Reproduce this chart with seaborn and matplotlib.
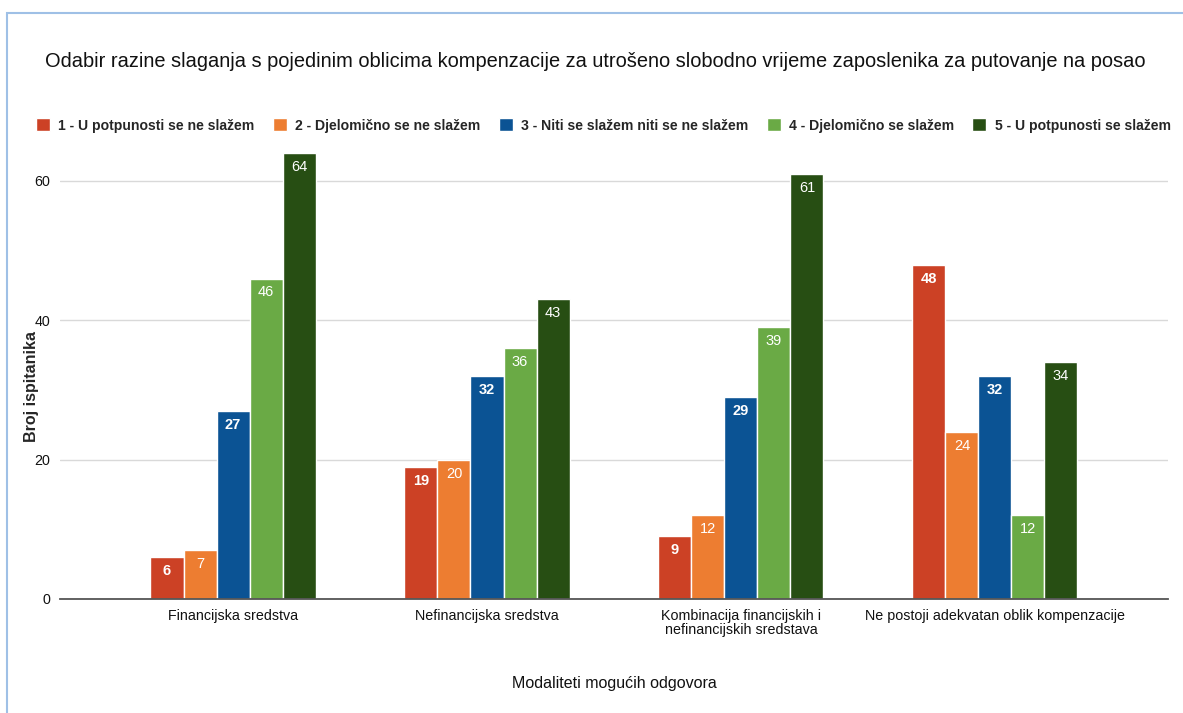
import matplotlib.pyplot as plt
import pandas as pd
import seaborn as sns
from matplotlib.patches import Rectangle

categories = [
    "Financijska sredstva",
    "Nefinancijska sredstva",
    "Kombinacija financijskih i\nnefinancijskih sredstava",
    "Ne postoji adekvatan oblik kompenzacije",
]
levels = [
    "1 - U potpunosti se ne slažem",
    "2 - Djelomično se ne slažem",
    "3 - Niti se slažem niti se ne slažem",
    "4 - Djelomično se slažem",
    "5 - U potpunosti se slažem",
]
level_1 = [6, 19, 9, 48]
level_2 = [7, 20, 12, 24]
level_3 = [27, 32, 29, 32]
level_4 = [46, 36, 39, 12]
level_5 = [64, 43, 61, 34]
colors = ["#CC4125", "#ED7D31", "#0B5394", "#6AAA45", "#274E13"]
bold_labels = [True, False, True, False, False]

sns.set_theme(style="white")
plt.rcParams["font.family"] = ["Liberation Sans", "DejaVu Sans"]

rows = []
for level, vals in zip(levels, [level_1, level_2, level_3, level_4, level_5]):
    for cat, v in zip(categories, vals):
        rows.append({"kategorija": cat, "razina": level, "broj": v})
df = pd.DataFrame(rows)

fig = plt.figure(figsize=(11.83, 7.13), dpi=100)
ax = fig.add_axes([0.051, 0.16, 0.936, 0.635])

sns.barplot(
    data=df, x="kategorija", y="broj", hue="razina", order=categories,
    hue_order=levels, palette=colors, saturation=1, width=0.65,
    edgecolor="white", linewidth=1, ax=ax, legend=True,
)

for container, is_bold in zip(ax.containers, bold_labels):
    for bar in container:
        h = bar.get_height()
        ax.annotate(
            f"{h:.0f}", (bar.get_x() + bar.get_width() / 2, h),
            xytext=(0, -5), textcoords="offset points", ha="center", va="top",
            color="white", fontsize=10.5, fontweight="bold" if is_bold else "normal",
        )

ax.set_ylim(0, 65)
ax.set_xlim(-0.68, 3.68)
ax.set_yticks([0, 20, 40, 60])
ax.yaxis.grid(True, color="#d9d9d9", linewidth=1)
ax.set_axisbelow(True)
for side in ["top", "right", "left"]:
    ax.spines[side].set_visible(False)
ax.spines["bottom"].set_color("#555555")
ax.spines["bottom"].set_linewidth(1.3)
ax.tick_params(axis="both", length=0, labelsize=10.3, colors="#111111")
ax.tick_params(axis="y", pad=7)
ax.tick_params(axis="x", pad=7)
for lbl in ax.get_xticklabels():
    lbl.set_linespacing(1.0)

ax.set_ylabel("Broj ispitanika", fontsize=11.5, fontweight="bold")
ax.yaxis.set_label_coords(-0.019, 0.47)
ax.set_xlabel("Modaliteti mogućih odgovora", fontsize=11.5, labelpad=28,
              color="#111111")

handles, labels = ax.get_legend_handles_labels()
ax.get_legend().remove()
fig.legend(
    handles, labels, loc="center", bbox_to_anchor=(0.51, 0.824), ncol=5,
    frameon=False, handlelength=1.0, handleheight=1.0,
    handletextpad=0.6, columnspacing=1.3,
    prop={"weight": "bold", "size": 10.1},
)

fig.suptitle(
    "Odabir razine slaganja s pojedinim oblicima kompenzacije za utrošeno "
    "slobodno vrijeme zaposlenika za putovanje na posao",
    x=0.503, y=0.927, fontsize=14.4, color="#111111",
)

fig.patches.append(Rectangle(
    (0.006, -0.1), 1.2, 1.082, transform=fig.transFigure,
    fill=False, edgecolor="#9fc0e6", linewidth=1.5,
))

fig.savefig("out.png", dpi=100)
